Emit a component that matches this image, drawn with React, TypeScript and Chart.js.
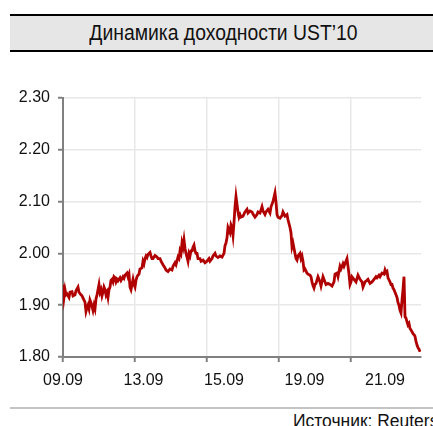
import React, { useEffect, useRef } from 'react';
import { Chart, registerables } from 'chart.js';

Chart.register(...registerables);

const TITLE = 'Динамика доходности UST’10';
const SOURCE = 'Источник: Reuters';
const FONT = '"Liberation Sans Narrow", "Arial Narrow", "Liberation Sans", Arial, sans-serif';

// x: intraday time index (72 units between grid marks), y: yield, %
const ust10: [number, number][] = [
  [0,1.94],[1,1.915],[2,1.93],[3,1.92],[4,1.922],[6,1.915],[7,1.925],[9,1.926],[10,1.918],[12,1.92],
  [13,1.928],[15,1.935],[16,1.925],[18,1.92],[19,1.918],[21,1.91],[22,1.906],[23,1.888],[24,1.895],[25,1.9],
  [26,1.893],[27,1.91],[28,1.905],[29,1.898],[30,1.89],[31,1.9],[32,1.893],[33,1.912],[34,1.92],[35,1.93],
  [36,1.94],[37,1.925],[38,1.93],[39,1.918],[40,1.925],[41,1.935],[42,1.93],[43,1.92],[44,1.925],[45,1.915],
  [46,1.93],[47,1.935],[48,1.948],[49,1.95],[50,1.945],[51,1.955],[52,1.953],[53,1.945],[54,1.95],[55,1.947],
  [57,1.953],[58,1.948],[60,1.955],[61,1.952],[62,1.958],[64,1.962],[65,1.955],[66,1.96],[67,1.935],[68,1.93],
  [69,1.94],[70,1.95],[71,1.94],[72,1.935],[73,1.948],[74,1.955],[75,1.958],[76,1.96],[77,1.97],[79,1.972],
  [80,1.985],[81,1.98],[82,1.99],[83,1.995],[84,1.992],[85,1.998],[87,2.002],[88,1.995],[89,1.99],[90,1.99],
  [92,1.996],[94,1.993],[95,1.99],[97,1.99],[98,1.985],[100,1.978],[102,1.972],[103,1.968],[105,1.965],[107,1.97],
  [109,1.968],[110,1.975],[112,1.982],[113,1.978],[115,1.993],[116,1.99],[117,2.005],[118,2.0],[119,2.02],[120,2.012],
  [121,2.026],[122,2.01],[123,2.0],[124,1.993],[125,1.985],[126,2.0],[127,1.995],[128,2.005],[129,2.005],[130,2.012],
  [131,2.016],[132,2.005],[133,2.0],[134,2.0],[135,1.99],[137,1.99],[138,1.985],[140,1.987],[142,1.982],[144,1.985],
  [146,1.99],[147,1.985],[149,1.99],[150,1.995],[152,2.0],[153,1.995],[155,1.992],[157,1.995],[159,1.993],[161,2.0],
  [162,2.015],[163,2.02],[164,2.03],[165,2.05],[166,2.045],[167,2.04],[168,2.055],[169,2.05],[170,2.035],[171,2.06],
  [172,2.09],[173,2.11],[174,2.095],[175,2.08],[176,2.07],[177,2.075],[178,2.07],[180,2.072],[182,2.08],[184,2.085],
  [185,2.078],[187,2.082],[189,2.08],[190,2.076],[192,2.07],[194,2.075],[195,2.08],[197,2.078],[199,2.09],[200,2.082],
  [202,2.075],[203,2.08],[205,2.085],[207,2.078],[208,2.09],[209,2.095],[210,2.1],[212,2.117],[213,2.1],[214,2.075],
  [215,2.07],[217,2.068],[219,2.073],[220,2.08],[222,2.072],[224,2.075],[225,2.065],[227,2.05],[228,2.04],[229,2.013],
  [230,2.02],[232,2.0],[233,1.99],[234,1.987],[235,1.995],[237,2.0],[238,1.99],[239,1.995],[240,1.985],[241,1.968],
  [242,1.97],[244,1.962],[245,1.96],[247,1.958],[248,1.955],[249,1.945],[250,1.938],[251,1.933],[252,1.94],[253,1.942],
  [255,1.955],[257,1.945],[258,1.937],[260,1.955],[262,1.945],[263,1.94],[265,1.942],[267,1.94],[269,1.937],[271,1.945],
  [272,1.96],[274,1.962],[275,1.955],[277,1.975],[278,1.97],[280,1.98],[281,1.975],[284,1.99],[285,1.975],[286,1.96],
  [287,1.94],[288,1.945],[289,1.955],[291,1.95],[293,1.945],[295,1.958],[297,1.95],[299,1.945],[300,1.935],[302,1.945],
  [304,1.948],[305,1.95],[307,1.942],[309,1.945],[311,1.95],[313,1.955],[314,1.953],[316,1.958],[317,1.955],[319,1.962],
  [321,1.96],[322,1.968],[323,1.963],[324,1.965],[325,1.953],[327,1.945],[328,1.94],[329,1.94],[330,1.933],[331,1.93],
  [332,1.925],[333,1.92],[334,1.915],[335,1.905],[336,1.9],[337,1.89],[338,1.885],[339,1.91],[340,1.93],[341,1.955],
  [342,1.878],[343,1.875],[344,1.868],[345,1.862],[346,1.865],[347,1.855],[348,1.852],[349,1.849],[350,1.845],[351,1.843],
  [352,1.84],[353,1.83],[354,1.823],[355,1.818],[356,1.815],[357,1.81],
];

const xMax = 358;
const gridTicks = [0, 72, 144, 216, 288];
const dateLabels = ['09.09', '13.09', '15.09', '19.09', '21.09'];
const labelTicks = [0, 80.5, 161, 241.5, 322];
const yMin = 1.8;
const yMax = 2.3;
const yStep = 0.1;

export default function App() {
  const ref = useRef<HTMLCanvasElement | null>(null);

  useEffect(() => {
    if (!ref.current) return;
    const chart = new Chart(ref.current, {
      type: 'line',
      data: {
        datasets: [
          {
            data: ust10.map(([x, y]) => ({ x, y })),
            borderColor: '#b00000',
            borderWidth: 2.8,
            pointRadius: 0,
            tension: 0,
            fill: false,
            xAxisID: 'x',
            yAxisID: 'y',
          },
        ],
      },
      options: {
        responsive: false,
        animation: false,
        devicePixelRatio: 1,
        layout: { padding: { top: 38, right: 12, bottom: 7, left: 0 } },
        plugins: { legend: { display: false }, tooltip: { enabled: false }, title: { display: false } },
        scales: {
          x: {
            type: 'linear',
            position: 'bottom',
            min: 0,
            max: xMax,
            afterBuildTicks: (axis: any) => {
              axis.ticks = gridTicks.map((v) => ({ value: v }));
            },
            afterFit: (s: any) => {
              s.height = 6;
            },
            grid: { color: '#e8e8e8', lineWidth: 1.5, tickColor: '#808080', tickLength: 5, tickWidth: 2 },
            border: { color: '#808080', width: 2 },
            ticks: { callback: () => '', padding: 0, font: { size: 1 } },
          },
          x2: {
            type: 'linear',
            position: 'bottom',
            min: 0,
            max: xMax,
            afterBuildTicks: (axis: any) => {
              axis.ticks = labelTicks.map((v) => ({ value: v }));
            },
            afterFit: (s: any) => {
              s.height = 30;
            },
            grid: { display: false, drawTicks: false },
            border: { display: false },
            ticks: {
              autoSkip: false,
              maxRotation: 0,
              padding: 8,
              color: '#111',
              font: { family: FONT, size: 16 },
              callback: (_v: any, i: number) => dateLabels[i],
            },
          },
          y: {
            min: yMin,
            max: yMax,
            afterFit: (s: any) => {
              s.width = 63;
            },
            grid: { color: '#e8e8e8', lineWidth: 1.5, tickColor: '#808080', tickLength: 5, tickWidth: 2 },
            border: { color: '#808080', width: 2 },
            ticks: {
              stepSize: yStep,
              padding: 8,
              color: '#111',
              font: { family: FONT, size: 16 },
              callback: (v: any) => Number(v).toFixed(2),
            },
          },
        },
      },
    });
    return () => chart.destroy();
  }, []);

  return (
    <div
      style={{
        position: 'fixed',
        left: 0,
        top: 0,
        width: 433,
        height: 426,
        overflow: 'hidden',
        background: '#fff',
        fontFamily: FONT,
      }}
    >
      <div
        style={{
          position: 'absolute',
          left: 10,
          top: 14,
          width: 423,
          height: 34,
          background: '#e6e6e6',
          borderTop: '2px solid #000',
          borderBottom: '2px solid #000',
          textAlign: 'center',
          lineHeight: '34px',
          color: '#111',
          whiteSpace: 'nowrap',
        }}
      >
        <span
          style={{
            display: 'inline-block',
            fontSize: 22,
            transform: 'scaleX(0.88)',
            transformOrigin: '50% 50%',
            marginLeft: 4,
          }}
        >
          {TITLE}
        </span>
      </div>
      <canvas ref={ref} width={433} height={340} style={{ position: 'absolute', left: 0, top: 60, width: 433, height: 340 }} />
      <div style={{ position: 'absolute', left: 10, top: 407, width: 423, height: 0, borderTop: '2px solid #c4c4c4' }} />
      <div
        style={{
          position: 'absolute',
          left: 293,
          top: 411,
          fontSize: 18,
          lineHeight: '20px',
          color: '#111',
          whiteSpace: 'nowrap',
          transform: 'scaleX(0.97)',
          transformOrigin: '0 50%',
        }}
      >
        {SOURCE}
      </div>
    </div>
  );
}
